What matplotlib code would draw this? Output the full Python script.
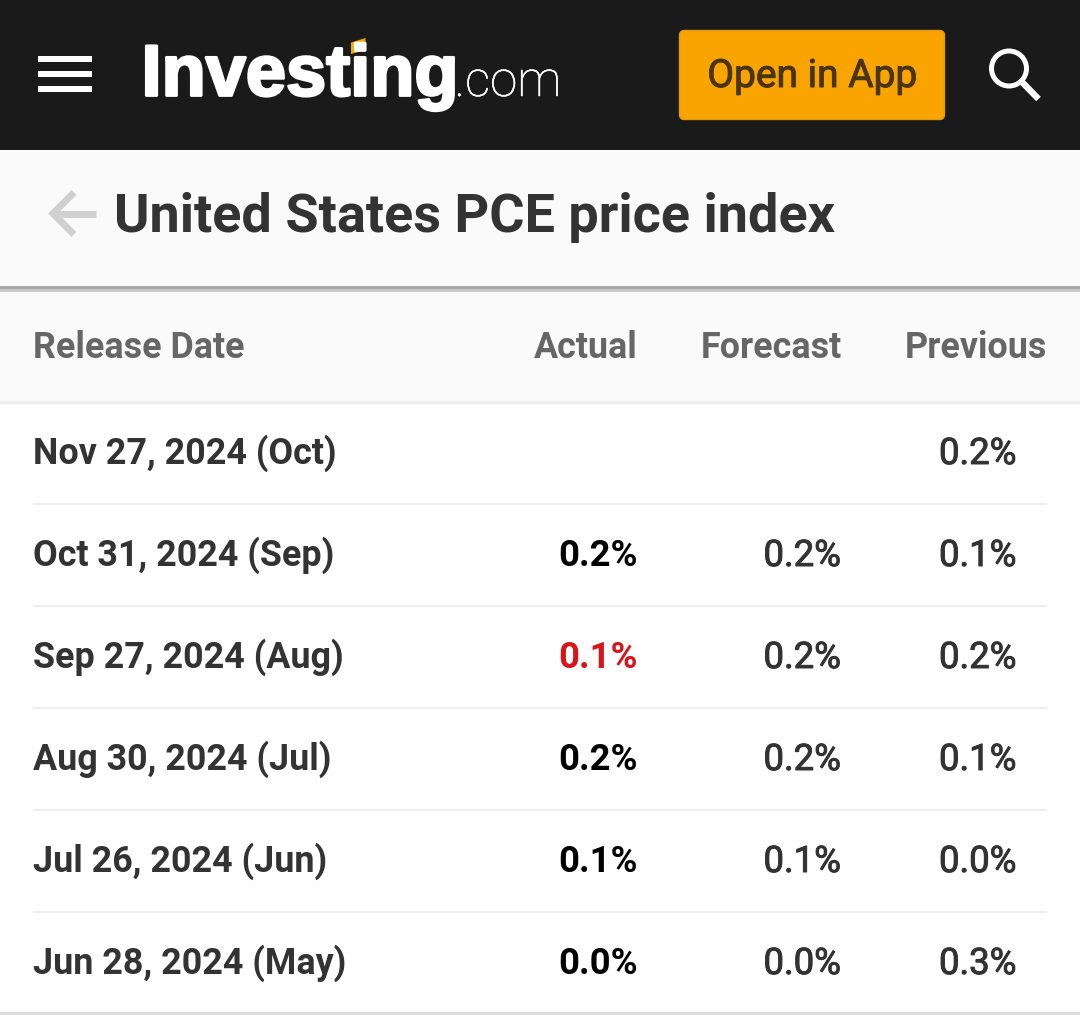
import matplotlib
matplotlib.use('Agg')
import matplotlib.pyplot as plt
import matplotlib.patheffects as pe
from matplotlib.patches import Rectangle, FancyBboxPatch, Circle, Polygon

# table content
title = 'United States PCE price index'
columns = ['Release Date', 'Actual', 'Forecast', 'Previous']
release_dates = ['Nov 27, 2024 (Oct)', 'Oct 31, 2024 (Sep)', 'Sep 27, 2024 (Aug)',
                 'Aug 30, 2024 (Jul)', 'Jul 26, 2024 (Jun)', 'Jun 28, 2024 (May)']
actual = ['', '0.2%', '0.1%', '0.2%', '0.1%', '0.0%']
forecast = ['', '0.2%', '0.2%', '0.2%', '0.1%', '0.0%']
previous = ['0.2%', '0.1%', '0.2%', '0.1%', '0.0%', '0.3%']
actual_colors = ['#000000', '#000000', '#d7141a', '#000000', '#000000', '#000000']

plt.rcParams['font.family'] = ['Roboto', 'DejaVu Sans']

W, H = 1080, 1015
fig = plt.figure(figsize=(W / 100, H / 100), dpi=100, facecolor='white')
ax = fig.add_axes([0, 0, 1, 1])
ax.set_xlim(0, W)
ax.set_ylim(H, 0)
ax.axis('off')


# roboto has no medium here, so thicken the regular cut a bit
def thick(color, width=0.7):
    return [pe.withStroke(linewidth=width, foreground=color)]


# top bar
ax.add_patch(Rectangle((0, 0), W, 150, color='#1a1a1a', lw=0))
for y in (56, 71, 86):
    ax.add_patch(Rectangle((38, y), 54, 6, color='white', lw=0))

ax.text(141.5, 95.5, 'Investing', color='white', fontsize=52, fontweight='bold',
        family='Liberation Sans', va='baseline', ha='left',
        path_effects=thick('white', 2.0))
ax.text(454.5, 96, '.com', color='white', fontsize=35.5, fontweight='light',
        va='baseline', ha='left', path_effects=thick('white', 0.3))
ax.add_patch(Polygon([(351, 42.5), (365.5, 38), (365.5, 50), (351, 54)], color='#f7a600', lw=0))

ax.add_patch(FancyBboxPatch((683, 34), 258, 82, boxstyle='round,pad=3.5,rounding_size=5',
                            fc='#f9a400', ec='#e39a12', lw=1))
ax.text(812, 87, 'Open in App', color='#4a3510', fontsize=28, ha='center', va='baseline',
        path_effects=thick('#4a3510', 0.7))

ax.add_patch(Circle((1009, 68.5), 17.5, fc='none', ec='white', lw=3.6))
ax.plot([1021.5, 1038.5], [81.5, 99], color='white', lw=4.6, solid_capstyle='butt')

# title bar
ax.add_patch(Rectangle((0, 150), W, 136, color='#fafafa', lw=0))
ax.add_patch(Rectangle((0, 286), W, 3, color='#a9a9a9', lw=0))
ax.add_patch(Rectangle((0, 289), W, 3, color='#c8c8c8', lw=0))
ax.plot([96, 56], [213.5, 213.5], color='#d0d0d0', lw=5, solid_capstyle='butt')
ax.plot([74, 53, 74], [192.5, 213.5, 234.5], color='#d0d0d0', lw=5, solid_joinstyle='miter',
        solid_capstyle='butt')
ax.text(114.5, 232, title, color='#333333', fontsize=38.9, fontweight='bold', va='baseline')

# header row
ax.add_patch(Rectangle((0, 292), W, 109, color='#fafafa', lw=0))
ax.add_patch(Rectangle((0, 401), W, 3, color='#eeeeee', lw=0))
col_right = [None, 638, 841.5, 1047.5]
ax.text(33, 358, columns[0], color='#666666', fontsize=25.85, fontweight='bold', va='baseline')
for i in range(1, 4):
    ax.text(col_right[i], 358, columns[i], color='#666666', fontsize=25.85, fontweight='bold',
            ha='right', va='baseline')

# rows
row_h = 102
for i, d in enumerate(release_dates):
    base = 464 + i * row_h
    ax.text(33, base, d, color='#333333', fontsize=25.85, fontweight='bold', va='baseline')
    ax.text(637.5, base, actual[i], color=actual_colors[i], fontsize=26.3, fontweight='bold',
            ha='right', va='baseline')
    ax.text(841, base, forecast[i], color='#333333', fontsize=26.3, ha='right', va='baseline',
            path_effects=thick('#333333'))
    ax.text(1016.5, base, previous[i], color='#333333', fontsize=26.3, ha='right', va='baseline',
            path_effects=thick('#333333'))
    line_y = 502.5 + i * row_h
    if i < len(release_dates) - 1:
        ax.add_patch(Rectangle((33, line_y), 1014, 2.5, color='#eeeeee', lw=0))

ax.add_patch(Rectangle((0, 1012), W, 3, color='#dcdcdc', lw=0))

fig.savefig('out.png', dpi=100, facecolor='white')
